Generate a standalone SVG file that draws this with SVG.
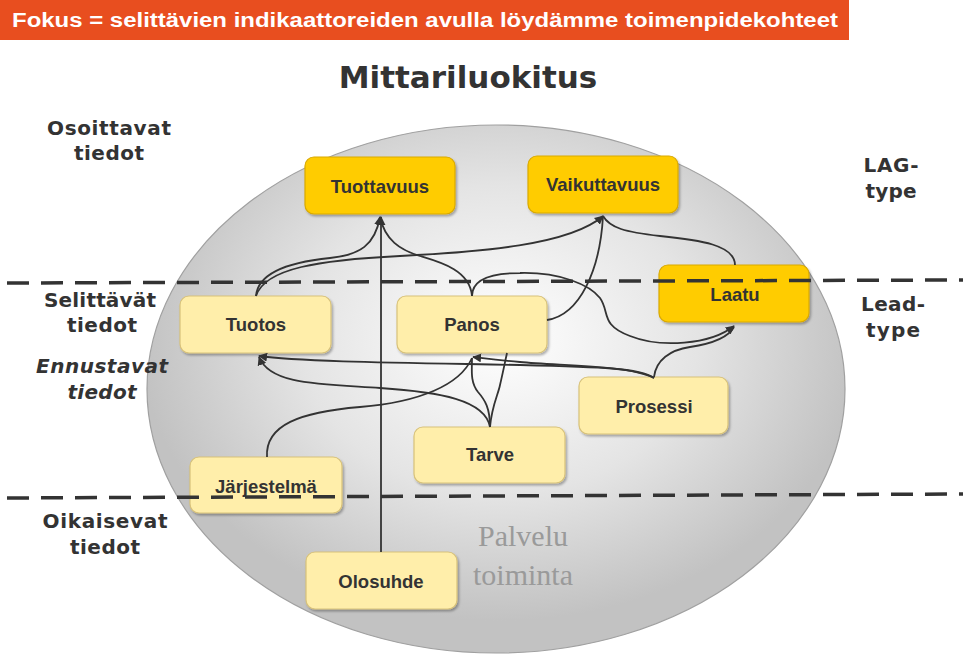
<svg xmlns="http://www.w3.org/2000/svg" width="963" height="655" viewBox="0 0 963 655">
<defs>
<radialGradient id="eg" cx="500" cy="340" r="360" gradientUnits="userSpaceOnUse" gradientTransform="translate(500 340) scale(1 0.78) translate(-500 -340)">
<stop offset="0" stop-color="#ffffff"/>
<stop offset="0.55" stop-color="#e4e4e4"/>
<stop offset="1" stop-color="#c2c2c2"/>
</radialGradient>
<marker id="ah" viewBox="0 0 10 10" refX="9" refY="5" markerWidth="9" markerHeight="9" markerUnits="userSpaceOnUse" orient="auto">
<path d="M0,0 L10,5 L0,10 z" fill="#333"/>
</marker>
<filter id="sh" x="-10%" y="-10%" width="130%" height="140%">
<feDropShadow dx="1.5" dy="2" stdDeviation="1.2" flood-color="#000" flood-opacity="0.3"/>
</filter>
</defs>
<style>
.dk{fill:#ffcc00;stroke:#d9a900;stroke-width:1.2}
.lt{fill:#ffeeaa;stroke:#d8c27a;stroke-width:1.2}
.nt{font-family:"Liberation Sans",Arial,sans-serif;font-weight:bold;font-size:18.5px;fill:#333;text-anchor:middle}
.sl{font-family:"DejaVu Sans",Verdana,sans-serif;font-weight:bold;font-size:20px;fill:#333;text-anchor:middle}
.c{fill:none;stroke:#333;stroke-width:1.8}
.dash{stroke:#333;stroke-width:3.5;stroke-dasharray:22 12;fill:none}
</style>
<rect width="963" height="655" fill="#fff"/>
<rect x="0" y="0" width="849" height="40" fill="#e84e1f"/>
<text x="12" y="27" font-family="'Liberation Sans',Arial,sans-serif" font-weight="bold" font-size="20" fill="#fff" textLength="826" lengthAdjust="spacingAndGlyphs">Fokus = selittävien indikaattoreiden avulla löydämme toimenpidekohteet</text>
<text x="468" y="88" font-family="'DejaVu Sans',Verdana,sans-serif" font-weight="bold" font-size="31" fill="#333" text-anchor="middle">Mittariluokitus</text>
<ellipse cx="496" cy="389" rx="349" ry="264" fill="url(#eg)" stroke="#a0a0a0" stroke-width="1.2"/>
<g id="labels">
<text class="sl" x="109" y="135" textLength="124">Osoittavat</text>
<text class="sl" x="109" y="160" textLength="70">tiedot</text>
<text class="sl" x="100" y="307" textLength="112">Selittävät</text>
<text class="sl" x="102" y="332" textLength="70">tiedot</text>
<text class="sl" x="102" y="373" font-style="italic" textLength="132">Ennustavat</text>
<text class="sl" x="102" y="399" font-style="italic" textLength="69">tiedot</text>
<text class="sl" x="105" y="528" textLength="125">Oikaisevat</text>
<text class="sl" x="105" y="554" textLength="70">tiedot</text>
<text class="sl" x="891" y="172" textLength="55">LAG-</text>
<text class="sl" x="891" y="198" textLength="51">type</text>
<text class="sl" x="893" y="311" textLength="64">Lead-</text>
<text class="sl" x="893" y="337" textLength="54">type</text>
<text x="523" y="546" font-family="'Liberation Serif','Times New Roman',serif" font-size="30" fill="#9a9a9a" text-anchor="middle">Palvelu</text>
<text x="523" y="585" font-family="'Liberation Serif','Times New Roman',serif" font-size="30" fill="#9a9a9a" text-anchor="middle">toiminta</text>
</g>
<g id="n-tuottavuus"><rect class="dk" x="305" y="157" width="150" height="57" rx="9" filter="url(#sh)"/><text class="nt" x="380" y="193">Tuottavuus</text></g>
<g id="n-vaikuttavuus"><rect class="dk" x="528" y="156" width="150" height="57" rx="9" filter="url(#sh)"/><text class="nt" x="603" y="191">Vaikuttavuus</text></g>
<g id="n-laatu"><rect class="dk" x="659" y="265" width="150" height="57" rx="9" filter="url(#sh)"/><text class="nt" x="735" y="301">Laatu</text></g>
<g id="n-tuotos"><rect class="lt" x="180" y="296" width="151" height="57" rx="9" filter="url(#sh)"/><text class="nt" x="256" y="331">Tuotos</text></g>
<g id="n-panos"><rect class="lt" x="397" y="296" width="150" height="57" rx="9" filter="url(#sh)"/><text class="nt" x="472" y="331">Panos</text></g>
<g id="n-prosessi"><rect class="lt" x="579" y="377" width="149" height="57" rx="9" filter="url(#sh)"/><text class="nt" x="654" y="413">Prosessi</text></g>
<g id="n-tarve"><rect class="lt" x="414" y="427" width="151" height="56" rx="9" filter="url(#sh)"/><text class="nt" x="490" y="461">Tarve</text></g>
<g id="n-jarjestelma"><rect class="lt" x="190" y="457" width="152" height="56" rx="9" filter="url(#sh)"/><text class="nt" x="266" y="493">Järjestelmä</text></g>
<g id="n-olosuhde"><rect class="lt" x="306" y="552" width="151" height="57" rx="9" filter="url(#sh)"/><text class="nt" x="381" y="588">Olosuhde</text></g>
<g id="connectors">
<path class="c" d="M381,552 L381,217" marker-end="url(#ah)"/>
<path class="c" d="M256,296 C258,272 290,262 330,258 C360,255 375,245 380,217" marker-end="url(#ah)"/>
<path class="c" d="M256,296 C265,268 320,260 400,256 C480,252 570,245 603,216" marker-end="url(#ah)"/>
<path class="c" d="M472,296 C470,270 440,262 420,256 C400,250 385,240 380,217"/>
<path class="c" d="M547,320 C580,315 600,270 603,216"/>
<path class="c" d="M735,265 C735,245 700,240 660,236 C625,232 610,228 603,216"/>
<path class="c" d="M472,296 C472,278 495,273 520,273 C560,272 590,285 600,298 C610,312 600,325 630,336 C660,348 710,345 734,326" marker-end="url(#ah)"/>
<path class="c" d="M654,377 C656,360 670,350 690,347 C710,344 728,338 734,327"/>
<path class="c" d="M654,378 C640,368 600,367 520,365 C420,363 300,362 259,356" marker-end="url(#ah)"/>
<path class="c" d="M654,378 C630,365 560,366 520,362 C495,360 482,358 473,357" marker-end="url(#ah)"/>
<path class="c" d="M490,427 C485,400 440,392 380,388 C320,384 270,385 259,357" marker-end="url(#ah)"/>
<path class="c" d="M490,427 C490,408 485,400 478,392 C470,382 472,370 472,358"/>
<path class="c" d="M490,427 C492,405 498,395 500,385 C503,372 505,362 507,353"/>
<path class="c" d="M267,457 C265,425 300,412 360,407 C420,402 460,385 472,358"/>
</g>
<g id="dividers">
<path class="dash" d="M7,283 L963,280"/>
<path class="dash" d="M7,498 L963,494"/>
</g>
</svg>
